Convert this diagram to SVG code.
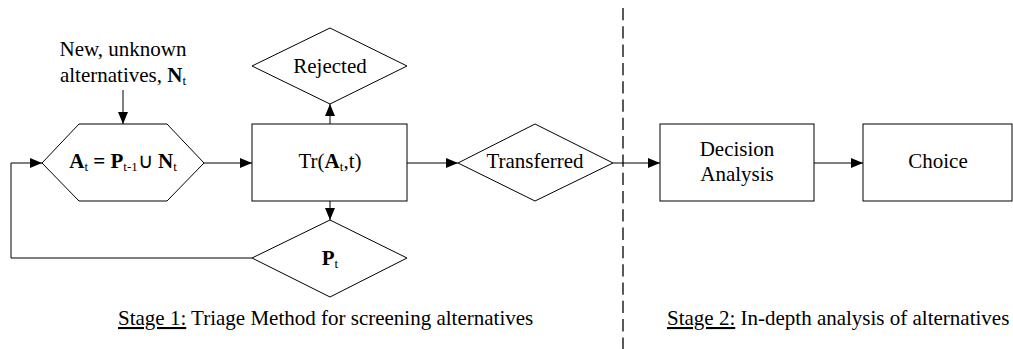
<svg xmlns="http://www.w3.org/2000/svg" width="1013" height="349" viewBox="0 0 1013 349">
<style>
.s{fill:#fff;stroke:#000;stroke-width:1}
.c{fill:none;stroke:#000;stroke-width:1}
text{font-family:"Liberation Serif","Times New Roman",serif;font-size:21px;fill:#000}
.m{text-anchor:middle}
.b{font-weight:bold}
.sub{font-size:13px;font-weight:normal}
.u{text-decoration:underline}
</style>
<defs>
<marker id="ah" viewBox="0 0 12 10" refX="12" refY="5" markerWidth="12" markerHeight="10" markerUnits="userSpaceOnUse" orient="auto">
<path d="M0,0 L12,5 L0,10 Z" fill="#000"/>
</marker>
</defs>
<rect width="1013" height="349" fill="#fff"/>
<g id="connectors">
<line class="c" x1="123" y1="90" x2="123" y2="124" marker-end="url(#ah)"/>
<line class="c" x1="204" y1="163" x2="252" y2="163" marker-end="url(#ah)"/>
<line class="c" x1="330" y1="124" x2="330" y2="104" marker-end="url(#ah)"/>
<line class="c" x1="330" y1="201" x2="330" y2="220" marker-end="url(#ah)"/>
<line class="c" x1="407" y1="163" x2="458" y2="163" marker-end="url(#ah)"/>
<polyline class="c" points="252,258 11,258 11,163 42,163" marker-end="url(#ah)"/>
<line class="c" x1="613" y1="163" x2="660" y2="163" marker-end="url(#ah)"/>
<line class="c" x1="814" y1="163" x2="863" y2="163" marker-end="url(#ah)"/>
</g>
<line id="divider" x1="623" y1="8" x2="623" y2="349" stroke="#000" stroke-width="1.3" stroke-dasharray="12.3,6"/>
<g id="input-label">
<text class="m" x="123" y="56">New, unknown</text>
<text class="m" x="123" y="82">alternatives, <tspan class="b">N</tspan><tspan class="sub" dy="3">t</tspan></text>
</g>
<g id="hexagon">
<polygon class="s" points="42,163 79,124 167,124 204,163 167,201 79,201"/>
<text class="m" x="123" y="168"><tspan class="b">A</tspan><tspan class="sub" dy="3">t</tspan><tspan class="b" dy="-3"> = P</tspan><tspan class="sub" dy="3">t-1</tspan><tspan dy="-3">∪ </tspan><tspan class="b">N</tspan><tspan class="sub" dy="3">t</tspan></text>
</g>
<g id="triage">
<rect class="s" x="252" y="124" width="155" height="77"/>
<text class="m" x="330" y="168">Tr(<tspan class="b">A</tspan><tspan class="sub" dy="3">t</tspan><tspan dy="-3">,t)</tspan></text>
</g>
<g id="rejected">
<polygon class="s" points="252,66 330,28 407,66 330,104"/>
<text class="m" x="330" y="73">Rejected</text>
</g>
<g id="pending">
<polygon class="s" points="252,258 330,220 407,258 330,297"/>
<text class="m" x="330" y="265"><tspan class="b">P</tspan><tspan class="sub" dy="3">t</tspan></text>
</g>
<g id="transferred">
<polygon class="s" points="458,163 535,124 613,163 535,201"/>
<text class="m" x="535" y="168">Transferred</text>
</g>
<g id="decision">
<rect class="s" x="660" y="124" width="154" height="77"/>
<text class="m" x="737" y="156">Decision</text>
<text class="m" x="737" y="181">Analysis</text>
</g>
<g id="choice">
<rect class="s" x="863" y="124" width="149" height="77"/>
<text class="m" x="938" y="168">Choice</text>
</g>
<g id="stage-labels">
<text x="118" y="325"><tspan class="u">Stage 1:</tspan> Triage Method for screening alternatives</text>
<text x="667" y="325"><tspan class="u">Stage 2:</tspan> In-depth analysis of alternatives</text>
</g>
</svg>
